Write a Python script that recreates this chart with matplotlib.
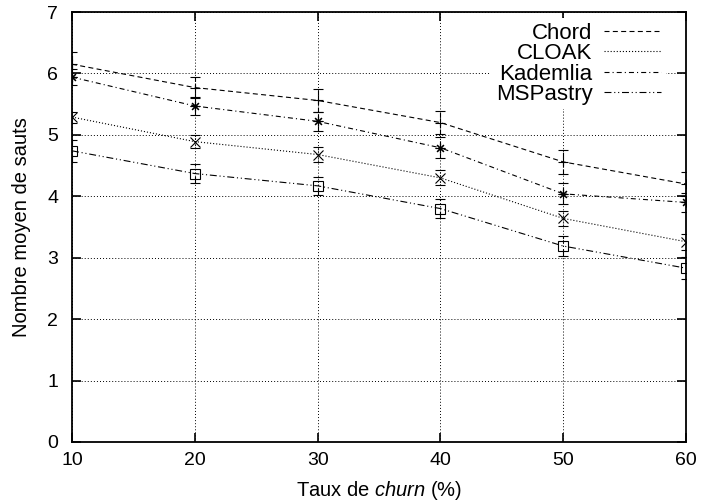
import matplotlib
matplotlib.use("Agg")
import matplotlib.pyplot as plt
from matplotlib.lines import Line2D

plt.rcParams['font.family'] = ['Liberation Sans', 'DejaVu Sans']
plt.rcParams['mathtext.fontset'] = 'custom'
plt.rcParams['mathtext.rm'] = 'Liberation Sans'
plt.rcParams['mathtext.it'] = 'Liberation Sans:italic'
plt.rcParams['lines.scale_dashes'] = False

# ---- data ----
churn = [10, 20, 30, 40, 50, 60]
series_names = ["Chord", "CLOAK", "Kademlia", "MSPastry"]
chord = [6.15, 5.77, 5.56, 5.20, 4.56, 4.20]
chord_err = [0.20, 0.17, 0.19, 0.19, 0.19, 0.19]
cloak = [5.29, 4.89, 4.68, 4.30, 3.64, 3.26]
cloak_err = [0.09, 0.11, 0.12, 0.12, 0.12, 0.13]
kademlia = [5.94, 5.47, 5.22, 4.79, 4.04, 3.90]
kademlia_err = [0.13, 0.15, 0.15, 0.17, 0.17, 0.16]
mspastry = [4.74, 4.37, 4.17, 3.80, 3.19, 2.83]
mspastry_err = [0.18, 0.15, 0.15, 0.15, 0.17, 0.18]
xticks = [10, 20, 30, 40, 50, 60]
yticks = [0, 1, 2, 3, 4, 5, 6, 7]

values = [chord, cloak, kademlia, mspastry]
errors = [chord_err, cloak_err, kademlia_err, mspastry_err]
styles = [(0, (3.6, 2.4)), (0, (0.8, 1.4)), (0, (3.6, 2.2, 0.8, 2.2)),
          (0, (5.0, 2.0, 0.8, 2.0, 0.8, 2.0))]
markers = ['+', 'x', (8, 2, 0), 's']

fig = plt.figure(figsize=(7.05, 5.04), dpi=100)
ax = fig.add_axes([72 / 705, 1 - 442 / 504, 614 / 705, 430 / 504])

handles = []
for name, v, e, ls, m in zip(series_names, values, errors, styles, markers):
    line, caps, bars = ax.errorbar(churn, v, yerr=e, color='black', linestyle=ls,
                                   linewidth=0.8, marker=m, markersize=7,
                                   markerfacecolor='none', markeredgewidth=0.8,
                                   capsize=3.6, capthick=0.8, elinewidth=0.8)
    for b in bars:
        b.set_linestyle(ls)
    handles.append(Line2D([], [], color='black', linestyle=ls, linewidth=0.8))

ax.set_xlim(10, 60)
ax.set_ylim(0, 7)
ax.set_xticks(xticks)
ax.set_yticks(yticks)
ax.grid(True, color='black', linestyle=(0, (0.7, 1.5)), linewidth=0.7)
ax.tick_params(direction='in', length=6.5, width=1.2, top=True, right=True,
               labelsize=14)
ax.tick_params(axis='y', pad=10)
ax.tick_params(axis='x', pad=7)
for s in ax.spines.values():
    s.set_linewidth(1.3)

ax.set_xlabel(r'Taux de $\it{churn\ (\%)}$', fontsize=14.5)
ax.set_ylabel('Nombre moyen de sauts', fontsize=14.5)
ax.xaxis.set_label_coords(0.5, -0.086)
ax.yaxis.set_label_coords(-0.067, 0.5)

leg = ax.legend(handles, series_names, loc='upper right',
                bbox_to_anchor=(0.967, 0.985), markerfirst=False,
                fontsize=16, handlelength=2.6, handletextpad=0.5,
                labelspacing=-0.03, borderpad=0.2, borderaxespad=0,
                frameon=True, fancybox=False, edgecolor='none',
                facecolor='white', framealpha=1)

fig.savefig('out.png', dpi=100)
